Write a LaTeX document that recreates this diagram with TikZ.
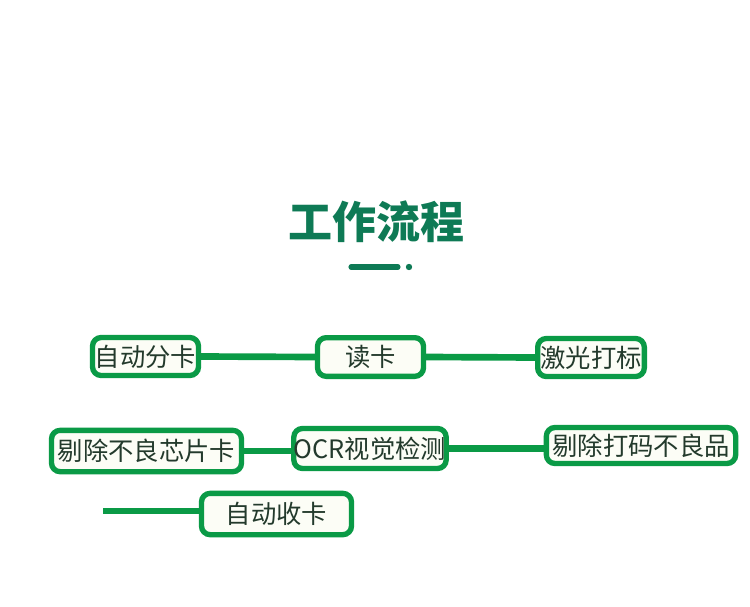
\documentclass[tikz,border=0pt]{standalone}
\usepackage{fontspec}
\newfontfamily\cjk{Noto Sans CJK SC}
\definecolor{titlegreen}{HTML}{0E7A55}
\definecolor{boxgreen}{HTML}{0A9A46}
\definecolor{boxfill}{HTML}{FCFDF6}
\definecolor{textgray}{HTML}{233A2C}

\begin{document}
\begin{tikzpicture}[x=0.75pt,y=-0.75pt]
                        \tikzstyle{stepbox}=[draw=boxgreen, line width=4pt, fill=boxfill, rounded corners=6.5pt,
                            inner sep=0pt, text=textgray, font=\cjk\fontsize{19}{20}\selectfont]
                        \tikzstyle{link}=[draw=boxgreen, line width=5pt]
                        \useasboundingbox (0,0) rectangle (750,607);
                        % title
                        \node (title) at (376,222) {\cjk\bfseries\fontsize{33}{36}\selectfont\color{titlegreen}工作流程};
                        \coordinate (barL) at (351,267);
                        \coordinate (barR) at (398,267);
                        \draw[titlegreen, line width=3.8pt, line cap=round] (barL) -- (barR);
                        \fill[titlegreen] (409,267) circle (3.2);
                        % row 1
                        \node[stepbox, minimum width=79.5pt, minimum height=28.5pt] (fenka) at (145.5,356.5) {自动分卡};
                        \node[stepbox, minimum width=79.5pt, minimum height=29pt] (duka) at (370.5,357) {读卡};
                        \node[stepbox, minimum width=80pt, minimum height=28.5pt] (dabiao) at (591,357.5) {激光打标};
                        \draw[link] (fenka.east) -- (duka.west);
                        \draw[link] (duka.east) -- (dabiao.west);
                        % row 2
                        \node[stepbox, minimum width=142.5pt, minimum height=31pt] (tichu) at (146.5,451) {剔除不良芯片卡};
                        \node[stepbox, minimum width=113pt, minimum height=30pt] (ocr) at (370,448.5) {OCR视觉检测};
                        \node[stepbox, minimum width=142pt, minimum height=27pt] (buliang) at (641,445.5) {剔除打码不良品};
                        \draw[link] (tichu.east) -- (tichu.east -| ocr.west);
                        \draw[link] (ocr.east) -- (ocr.east -| buliang.west);
                        % row 3
                        \coordinate (start) at (103,511);
                        \node[stepbox, minimum width=112.5pt, minimum height=31pt] (shouka) at (276.5,514) {自动收卡};
                        \draw[link] (start) -- (start -| shouka.west);
\end{tikzpicture}
\end{document}
